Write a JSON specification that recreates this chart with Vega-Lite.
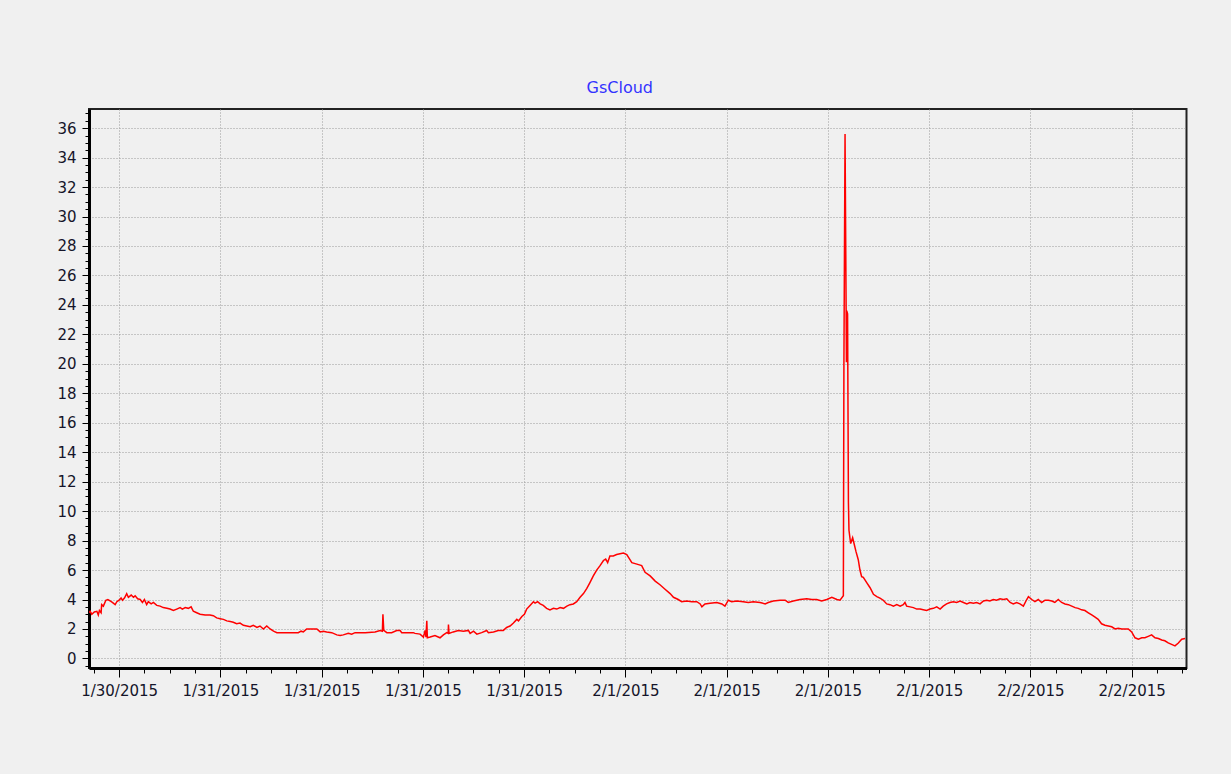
{
  "$schema": "https://vega.github.io/schema/vega-lite/v6.json",
  "width": 1097.5,
  "height": 559,
  "autosize": "none",
  "padding": {"left": 89, "top": 109, "right": 44.5, "bottom": 106},
  "background": "#f0f0f0",
  "title": {"text": "GsCloud", "color": "#3333ff", "font": "DejaVu Sans", "fontSize": 16, "fontWeight": "normal", "anchor": "middle", "dx": -18, "offset": -3, "baseline": "alphabetic"},
  "config": {
    "view": {"stroke": "#222222", "strokeWidth": 2, "fill": "#f0f0f0"},
    "axis": {"labelFont": "DejaVu Sans", "labelFontSize": 15, "labelColor": "#15152a", "domainColor": "#000000", "domainWidth": 3, "tickColor": "#000000", "tickWidth": 1, "gridColor": "#9a9a9a", "gridDash": [1, 2], "gridWidth": 1, "labelOverlap": false, "labelFlush": false, "labelBound": false, "title": null}
  },
  "data": {"values": [
    {"time": "2015-01-30T16:13", "conc": 3.1},
    {"time": "2015-01-30T16:17", "conc": 3.2},
    {"time": "2015-01-30T16:23", "conc": 3.0},
    {"time": "2015-01-30T16:32", "conc": 3.15},
    {"time": "2015-01-30T16:41", "conc": 3.2},
    {"time": "2015-01-30T16:46", "conc": 2.95},
    {"time": "2015-01-30T16:50", "conc": 3.25},
    {"time": "2015-01-30T16:56", "conc": 3.1},
    {"time": "2015-01-30T16:58", "conc": 3.65},
    {"time": "2015-01-30T17:04", "conc": 3.55},
    {"time": "2015-01-30T17:13", "conc": 3.95},
    {"time": "2015-01-30T17:20", "conc": 4.0},
    {"time": "2015-01-30T17:28", "conc": 3.9},
    {"time": "2015-01-30T17:36", "conc": 3.8},
    {"time": "2015-01-30T17:46", "conc": 3.65},
    {"time": "2015-01-30T17:52", "conc": 3.85},
    {"time": "2015-01-30T18:00", "conc": 3.95},
    {"time": "2015-01-30T18:07", "conc": 4.1},
    {"time": "2015-01-30T18:12", "conc": 3.95},
    {"time": "2015-01-30T18:19", "conc": 4.1},
    {"time": "2015-01-30T18:27", "conc": 4.4},
    {"time": "2015-01-30T18:33", "conc": 4.15},
    {"time": "2015-01-30T18:43", "conc": 4.3},
    {"time": "2015-01-30T18:51", "conc": 4.15},
    {"time": "2015-01-30T18:57", "conc": 4.25},
    {"time": "2015-01-30T19:06", "conc": 4.05},
    {"time": "2015-01-30T19:15", "conc": 4.0},
    {"time": "2015-01-30T19:23", "conc": 3.8},
    {"time": "2015-01-30T19:30", "conc": 4.0},
    {"time": "2015-01-30T19:38", "conc": 3.65},
    {"time": "2015-01-30T19:44", "conc": 3.85},
    {"time": "2015-01-30T19:54", "conc": 3.7},
    {"time": "2015-01-30T20:02", "conc": 3.8},
    {"time": "2015-01-30T20:14", "conc": 3.6},
    {"time": "2015-01-30T20:26", "conc": 3.55},
    {"time": "2015-01-30T20:37", "conc": 3.45},
    {"time": "2015-01-30T20:50", "conc": 3.4},
    {"time": "2015-01-30T21:01", "conc": 3.35},
    {"time": "2015-01-30T21:13", "conc": 3.25},
    {"time": "2015-01-30T21:25", "conc": 3.35},
    {"time": "2015-01-30T21:37", "conc": 3.45},
    {"time": "2015-01-30T21:45", "conc": 3.35},
    {"time": "2015-01-30T21:55", "conc": 3.45},
    {"time": "2015-01-30T22:06", "conc": 3.4},
    {"time": "2015-01-30T22:16", "conc": 3.5},
    {"time": "2015-01-30T22:24", "conc": 3.2},
    {"time": "2015-01-30T22:36", "conc": 3.1},
    {"time": "2015-01-30T22:48", "conc": 3.0},
    {"time": "2015-01-30T23:06", "conc": 2.95},
    {"time": "2015-01-30T23:23", "conc": 2.95},
    {"time": "2015-01-30T23:35", "conc": 2.9},
    {"time": "2015-01-30T23:47", "conc": 2.75},
    {"time": "2015-01-30T23:59", "conc": 2.7},
    {"time": "2015-01-31T00:11", "conc": 2.65},
    {"time": "2015-01-31T00:23", "conc": 2.55},
    {"time": "2015-01-31T00:35", "conc": 2.5},
    {"time": "2015-01-31T00:46", "conc": 2.45},
    {"time": "2015-01-31T00:58", "conc": 2.35},
    {"time": "2015-01-31T01:10", "conc": 2.4},
    {"time": "2015-01-31T01:22", "conc": 2.25},
    {"time": "2015-01-31T01:34", "conc": 2.2},
    {"time": "2015-01-31T01:46", "conc": 2.15},
    {"time": "2015-01-31T01:57", "conc": 2.25},
    {"time": "2015-01-31T02:10", "conc": 2.1},
    {"time": "2015-01-31T02:21", "conc": 2.2},
    {"time": "2015-01-31T02:33", "conc": 2.0},
    {"time": "2015-01-31T02:45", "conc": 2.2},
    {"time": "2015-01-31T02:57", "conc": 2.0},
    {"time": "2015-01-31T03:09", "conc": 1.85},
    {"time": "2015-01-31T03:21", "conc": 1.75},
    {"time": "2015-01-31T04:08", "conc": 1.75},
    {"time": "2015-01-31T04:37", "conc": 1.75},
    {"time": "2015-01-31T04:47", "conc": 1.85},
    {"time": "2015-01-31T04:55", "conc": 1.8},
    {"time": "2015-01-31T05:07", "conc": 2.0},
    {"time": "2015-01-31T05:43", "conc": 2.0},
    {"time": "2015-01-31T05:55", "conc": 1.8},
    {"time": "2015-01-31T06:06", "conc": 1.85},
    {"time": "2015-01-31T06:18", "conc": 1.8},
    {"time": "2015-01-31T06:36", "conc": 1.75},
    {"time": "2015-01-31T06:54", "conc": 1.6},
    {"time": "2015-01-31T07:06", "conc": 1.55},
    {"time": "2015-01-31T07:17", "conc": 1.6},
    {"time": "2015-01-31T07:35", "conc": 1.7},
    {"time": "2015-01-31T07:47", "conc": 1.65},
    {"time": "2015-01-31T07:59", "conc": 1.75},
    {"time": "2015-01-31T08:35", "conc": 1.75},
    {"time": "2015-01-31T09:10", "conc": 1.8},
    {"time": "2015-01-31T09:28", "conc": 1.9},
    {"time": "2015-01-31T09:36", "conc": 1.85},
    {"time": "2015-01-31T09:38", "conc": 3.0},
    {"time": "2015-01-31T09:41", "conc": 1.9},
    {"time": "2015-01-31T09:52", "conc": 1.75},
    {"time": "2015-01-31T10:09", "conc": 1.75},
    {"time": "2015-01-31T10:27", "conc": 1.9},
    {"time": "2015-01-31T10:39", "conc": 1.9},
    {"time": "2015-01-31T10:45", "conc": 1.75},
    {"time": "2015-01-31T11:26", "conc": 1.75},
    {"time": "2015-01-31T11:32", "conc": 1.7},
    {"time": "2015-01-31T11:50", "conc": 1.65},
    {"time": "2015-01-31T12:02", "conc": 1.45},
    {"time": "2015-01-31T12:08", "conc": 1.9},
    {"time": "2015-01-31T12:11", "conc": 1.45},
    {"time": "2015-01-31T12:14", "conc": 2.55},
    {"time": "2015-01-31T12:16", "conc": 1.4},
    {"time": "2015-01-31T12:26", "conc": 1.45},
    {"time": "2015-01-31T12:43", "conc": 1.55},
    {"time": "2015-01-31T13:01", "conc": 1.4},
    {"time": "2015-01-31T13:13", "conc": 1.6},
    {"time": "2015-01-31T13:25", "conc": 1.75},
    {"time": "2015-01-31T13:30", "conc": 1.7},
    {"time": "2015-01-31T13:31", "conc": 2.3},
    {"time": "2015-01-31T13:33", "conc": 1.7},
    {"time": "2015-01-31T13:48", "conc": 1.8},
    {"time": "2015-01-31T14:06", "conc": 1.9},
    {"time": "2015-01-31T14:24", "conc": 1.85},
    {"time": "2015-01-31T14:42", "conc": 1.9},
    {"time": "2015-01-31T14:48", "conc": 1.7},
    {"time": "2015-01-31T15:00", "conc": 1.85},
    {"time": "2015-01-31T15:12", "conc": 1.65},
    {"time": "2015-01-31T15:29", "conc": 1.75},
    {"time": "2015-01-31T15:47", "conc": 1.9},
    {"time": "2015-01-31T15:53", "conc": 1.75},
    {"time": "2015-01-31T16:11", "conc": 1.8},
    {"time": "2015-01-31T16:28", "conc": 1.9},
    {"time": "2015-01-31T16:46", "conc": 1.9},
    {"time": "2015-01-31T16:58", "conc": 2.1},
    {"time": "2015-01-31T17:10", "conc": 2.2},
    {"time": "2015-01-31T17:22", "conc": 2.4},
    {"time": "2015-01-31T17:34", "conc": 2.65},
    {"time": "2015-01-31T17:40", "conc": 2.55},
    {"time": "2015-01-31T17:52", "conc": 2.85},
    {"time": "2015-01-31T18:01", "conc": 3.0},
    {"time": "2015-01-31T18:09", "conc": 3.35},
    {"time": "2015-01-31T18:21", "conc": 3.6},
    {"time": "2015-01-31T18:33", "conc": 3.85},
    {"time": "2015-01-31T18:39", "conc": 3.75},
    {"time": "2015-01-31T18:48", "conc": 3.85},
    {"time": "2015-01-31T18:57", "conc": 3.7},
    {"time": "2015-01-31T19:08", "conc": 3.6},
    {"time": "2015-01-31T19:20", "conc": 3.4},
    {"time": "2015-01-31T19:32", "conc": 3.3},
    {"time": "2015-01-31T19:44", "conc": 3.4},
    {"time": "2015-01-31T19:56", "conc": 3.35},
    {"time": "2015-01-31T20:08", "conc": 3.45},
    {"time": "2015-01-31T20:20", "conc": 3.4},
    {"time": "2015-01-31T20:32", "conc": 3.55},
    {"time": "2015-01-31T20:43", "conc": 3.65},
    {"time": "2015-01-31T20:55", "conc": 3.7},
    {"time": "2015-01-31T21:07", "conc": 3.85},
    {"time": "2015-01-31T21:19", "conc": 4.15},
    {"time": "2015-01-31T21:31", "conc": 4.4},
    {"time": "2015-01-31T21:43", "conc": 4.75},
    {"time": "2015-01-31T21:54", "conc": 5.15},
    {"time": "2015-01-31T22:06", "conc": 5.6},
    {"time": "2015-01-31T22:18", "conc": 6.0},
    {"time": "2015-01-31T22:30", "conc": 6.3},
    {"time": "2015-01-31T22:42", "conc": 6.65},
    {"time": "2015-01-31T22:50", "conc": 6.75},
    {"time": "2015-01-31T22:57", "conc": 6.5},
    {"time": "2015-01-31T23:05", "conc": 6.95},
    {"time": "2015-01-31T23:17", "conc": 6.95},
    {"time": "2015-01-31T23:29", "conc": 7.05},
    {"time": "2015-01-31T23:41", "conc": 7.1},
    {"time": "2015-01-31T23:53", "conc": 7.15},
    {"time": "2015-02-01T00:05", "conc": 7.05},
    {"time": "2015-02-01T00:23", "conc": 6.5},
    {"time": "2015-02-01T00:41", "conc": 6.4},
    {"time": "2015-02-01T00:58", "conc": 6.3},
    {"time": "2015-02-01T01:10", "conc": 5.85},
    {"time": "2015-02-01T01:28", "conc": 5.6},
    {"time": "2015-02-01T01:46", "conc": 5.25},
    {"time": "2015-02-01T02:03", "conc": 5.0},
    {"time": "2015-02-01T02:21", "conc": 4.7},
    {"time": "2015-02-01T02:39", "conc": 4.4},
    {"time": "2015-02-01T02:51", "conc": 4.15},
    {"time": "2015-02-01T03:08", "conc": 4.0},
    {"time": "2015-02-01T03:20", "conc": 3.85},
    {"time": "2015-02-01T03:38", "conc": 3.9},
    {"time": "2015-02-01T03:56", "conc": 3.85},
    {"time": "2015-02-01T04:14", "conc": 3.85},
    {"time": "2015-02-01T04:26", "conc": 3.7},
    {"time": "2015-02-01T04:32", "conc": 3.5},
    {"time": "2015-02-01T04:43", "conc": 3.7},
    {"time": "2015-02-01T05:01", "conc": 3.75},
    {"time": "2015-02-01T05:25", "conc": 3.8},
    {"time": "2015-02-01T05:43", "conc": 3.7},
    {"time": "2015-02-01T05:54", "conc": 3.55},
    {"time": "2015-02-01T06:06", "conc": 3.95},
    {"time": "2015-02-01T06:18", "conc": 3.85},
    {"time": "2015-02-01T06:36", "conc": 3.9},
    {"time": "2015-02-01T06:59", "conc": 3.85},
    {"time": "2015-02-01T07:17", "conc": 3.8},
    {"time": "2015-02-01T07:35", "conc": 3.85},
    {"time": "2015-02-01T07:59", "conc": 3.8},
    {"time": "2015-02-01T08:17", "conc": 3.7},
    {"time": "2015-02-01T08:28", "conc": 3.8},
    {"time": "2015-02-01T08:46", "conc": 3.9},
    {"time": "2015-02-01T09:10", "conc": 3.95},
    {"time": "2015-02-01T09:28", "conc": 3.95},
    {"time": "2015-02-01T09:39", "conc": 3.8},
    {"time": "2015-02-01T09:57", "conc": 3.9},
    {"time": "2015-02-01T10:21", "conc": 4.0},
    {"time": "2015-02-01T10:45", "conc": 4.05},
    {"time": "2015-02-01T11:03", "conc": 4.0},
    {"time": "2015-02-01T11:20", "conc": 4.0},
    {"time": "2015-02-01T11:38", "conc": 3.9},
    {"time": "2015-02-01T11:56", "conc": 4.0},
    {"time": "2015-02-01T12:14", "conc": 4.15},
    {"time": "2015-02-01T12:32", "conc": 4.0},
    {"time": "2015-02-01T12:43", "conc": 3.95},
    {"time": "2015-02-01T12:55", "conc": 4.25},
    {"time": "2015-02-01T12:57", "conc": 20.1},
    {"time": "2015-02-01T13:01", "conc": 35.6},
    {"time": "2015-02-01T13:06", "conc": 20.1},
    {"time": "2015-02-01T13:07", "conc": 23.6},
    {"time": "2015-02-01T13:10", "conc": 23.4},
    {"time": "2015-02-01T13:13", "conc": 10.6},
    {"time": "2015-02-01T13:15", "conc": 8.7},
    {"time": "2015-02-01T13:21", "conc": 7.8},
    {"time": "2015-02-01T13:28", "conc": 8.2},
    {"time": "2015-02-01T13:33", "conc": 7.8},
    {"time": "2015-02-01T13:40", "conc": 7.25},
    {"time": "2015-02-01T13:48", "conc": 6.7},
    {"time": "2015-02-01T13:54", "conc": 6.0},
    {"time": "2015-02-01T14:00", "conc": 5.55},
    {"time": "2015-02-01T14:06", "conc": 5.5},
    {"time": "2015-02-01T14:18", "conc": 5.15},
    {"time": "2015-02-01T14:30", "conc": 4.8},
    {"time": "2015-02-01T14:42", "conc": 4.35},
    {"time": "2015-02-01T14:54", "conc": 4.2},
    {"time": "2015-02-01T15:05", "conc": 4.1},
    {"time": "2015-02-01T15:17", "conc": 3.95},
    {"time": "2015-02-01T15:29", "conc": 3.7},
    {"time": "2015-02-01T15:41", "conc": 3.65},
    {"time": "2015-02-01T15:53", "conc": 3.55},
    {"time": "2015-02-01T16:05", "conc": 3.65},
    {"time": "2015-02-01T16:17", "conc": 3.55},
    {"time": "2015-02-01T16:28", "conc": 3.65},
    {"time": "2015-02-01T16:34", "conc": 3.8},
    {"time": "2015-02-01T16:40", "conc": 3.55},
    {"time": "2015-02-01T16:52", "conc": 3.5},
    {"time": "2015-02-01T17:04", "conc": 3.45},
    {"time": "2015-02-01T17:16", "conc": 3.35},
    {"time": "2015-02-01T17:28", "conc": 3.35},
    {"time": "2015-02-01T17:39", "conc": 3.3},
    {"time": "2015-02-01T17:51", "conc": 3.25},
    {"time": "2015-02-01T18:03", "conc": 3.35},
    {"time": "2015-02-01T18:15", "conc": 3.4},
    {"time": "2015-02-01T18:27", "conc": 3.5},
    {"time": "2015-02-01T18:39", "conc": 3.35},
    {"time": "2015-02-01T18:50", "conc": 3.55},
    {"time": "2015-02-01T19:02", "conc": 3.7},
    {"time": "2015-02-01T19:14", "conc": 3.8},
    {"time": "2015-02-01T19:26", "conc": 3.85},
    {"time": "2015-02-01T19:38", "conc": 3.8},
    {"time": "2015-02-01T19:50", "conc": 3.9},
    {"time": "2015-02-01T20:02", "conc": 3.8},
    {"time": "2015-02-01T20:14", "conc": 3.7},
    {"time": "2015-02-01T20:25", "conc": 3.8},
    {"time": "2015-02-01T20:37", "conc": 3.75},
    {"time": "2015-02-01T20:49", "conc": 3.8},
    {"time": "2015-02-01T21:01", "conc": 3.7},
    {"time": "2015-02-01T21:13", "conc": 3.9},
    {"time": "2015-02-01T21:25", "conc": 3.95},
    {"time": "2015-02-01T21:36", "conc": 3.9},
    {"time": "2015-02-01T21:48", "conc": 4.0},
    {"time": "2015-02-01T22:00", "conc": 3.95},
    {"time": "2015-02-01T22:12", "conc": 4.05},
    {"time": "2015-02-01T22:24", "conc": 4.0},
    {"time": "2015-02-01T22:36", "conc": 4.05},
    {"time": "2015-02-01T22:48", "conc": 3.8},
    {"time": "2015-02-01T22:59", "conc": 3.7},
    {"time": "2015-02-01T23:11", "conc": 3.8},
    {"time": "2015-02-01T23:23", "conc": 3.7},
    {"time": "2015-02-01T23:35", "conc": 3.55},
    {"time": "2015-02-01T23:47", "conc": 4.0},
    {"time": "2015-02-01T23:53", "conc": 4.2},
    {"time": "2015-02-02T00:05", "conc": 4.0},
    {"time": "2015-02-02T00:16", "conc": 3.85},
    {"time": "2015-02-02T00:28", "conc": 4.0},
    {"time": "2015-02-02T00:40", "conc": 3.8},
    {"time": "2015-02-02T00:52", "conc": 3.95},
    {"time": "2015-02-02T01:04", "conc": 3.95},
    {"time": "2015-02-02T01:16", "conc": 3.9},
    {"time": "2015-02-02T01:27", "conc": 3.8},
    {"time": "2015-02-02T01:39", "conc": 4.0},
    {"time": "2015-02-02T01:51", "conc": 3.8},
    {"time": "2015-02-02T02:03", "conc": 3.7},
    {"time": "2015-02-02T02:15", "conc": 3.65},
    {"time": "2015-02-02T02:27", "conc": 3.55},
    {"time": "2015-02-02T02:39", "conc": 3.45},
    {"time": "2015-02-02T02:50", "conc": 3.4},
    {"time": "2015-02-02T03:02", "conc": 3.3},
    {"time": "2015-02-02T03:14", "conc": 3.25},
    {"time": "2015-02-02T03:26", "conc": 3.1},
    {"time": "2015-02-02T03:38", "conc": 2.95},
    {"time": "2015-02-02T03:50", "conc": 2.8},
    {"time": "2015-02-02T04:01", "conc": 2.65},
    {"time": "2015-02-02T04:13", "conc": 2.35},
    {"time": "2015-02-02T04:25", "conc": 2.25},
    {"time": "2015-02-02T04:37", "conc": 2.2},
    {"time": "2015-02-02T04:49", "conc": 2.15},
    {"time": "2015-02-02T05:01", "conc": 2.0},
    {"time": "2015-02-02T05:12", "conc": 2.05},
    {"time": "2015-02-02T05:25", "conc": 2.0},
    {"time": "2015-02-02T05:36", "conc": 2.0},
    {"time": "2015-02-02T05:48", "conc": 2.0},
    {"time": "2015-02-02T06:00", "conc": 1.8},
    {"time": "2015-02-02T06:12", "conc": 1.4},
    {"time": "2015-02-02T06:24", "conc": 1.3},
    {"time": "2015-02-02T06:36", "conc": 1.4},
    {"time": "2015-02-02T06:47", "conc": 1.4},
    {"time": "2015-02-02T06:59", "conc": 1.5},
    {"time": "2015-02-02T07:11", "conc": 1.6},
    {"time": "2015-02-02T07:23", "conc": 1.4},
    {"time": "2015-02-02T07:35", "conc": 1.35},
    {"time": "2015-02-02T07:47", "conc": 1.25},
    {"time": "2015-02-02T07:58", "conc": 1.2},
    {"time": "2015-02-02T08:10", "conc": 1.05},
    {"time": "2015-02-02T08:22", "conc": 0.95},
    {"time": "2015-02-02T08:34", "conc": 0.85},
    {"time": "2015-02-02T08:46", "conc": 1.05},
    {"time": "2015-02-02T08:58", "conc": 1.3},
    {"time": "2015-02-02T09:10", "conc": 1.35}
  ]},
  "mark": {"type": "line", "color": "#ff0000", "strokeWidth": 1.5, "clip": true},
  "encoding": {
    "x": {
      "field": "time",
      "type": "temporal",
      "scale": {"domain": [{"year": 2015, "month": 1, "date": 30, "hours": 16, "minutes": 13}, {"year": 2015, "month": 2, "date": 2, "hours": 9, "minutes": 15}]},
      "axis": {
        "values": [
          {"year": 2015, "month": 1, "date": 30, "hours": 16, "minutes": 30},
          {"year": 2015, "month": 1, "date": 30, "hours": 18, "minutes": 0},
          {"year": 2015, "month": 1, "date": 30, "hours": 19, "minutes": 30},
          {"year": 2015, "month": 1, "date": 30, "hours": 21, "minutes": 0},
          {"year": 2015, "month": 1, "date": 30, "hours": 22, "minutes": 30},
          {"year": 2015, "month": 1, "date": 31, "hours": 0, "minutes": 0},
          {"year": 2015, "month": 1, "date": 31, "hours": 1, "minutes": 30},
          {"year": 2015, "month": 1, "date": 31, "hours": 3, "minutes": 0},
          {"year": 2015, "month": 1, "date": 31, "hours": 4, "minutes": 30},
          {"year": 2015, "month": 1, "date": 31, "hours": 6, "minutes": 0},
          {"year": 2015, "month": 1, "date": 31, "hours": 7, "minutes": 30},
          {"year": 2015, "month": 1, "date": 31, "hours": 9, "minutes": 0},
          {"year": 2015, "month": 1, "date": 31, "hours": 10, "minutes": 30},
          {"year": 2015, "month": 1, "date": 31, "hours": 12, "minutes": 0},
          {"year": 2015, "month": 1, "date": 31, "hours": 13, "minutes": 30},
          {"year": 2015, "month": 1, "date": 31, "hours": 15, "minutes": 0},
          {"year": 2015, "month": 1, "date": 31, "hours": 16, "minutes": 30},
          {"year": 2015, "month": 1, "date": 31, "hours": 18, "minutes": 0},
          {"year": 2015, "month": 1, "date": 31, "hours": 19, "minutes": 30},
          {"year": 2015, "month": 1, "date": 31, "hours": 21, "minutes": 0},
          {"year": 2015, "month": 1, "date": 31, "hours": 22, "minutes": 30},
          {"year": 2015, "month": 2, "date": 1, "hours": 0, "minutes": 0},
          {"year": 2015, "month": 2, "date": 1, "hours": 1, "minutes": 30},
          {"year": 2015, "month": 2, "date": 1, "hours": 3, "minutes": 0},
          {"year": 2015, "month": 2, "date": 1, "hours": 4, "minutes": 30},
          {"year": 2015, "month": 2, "date": 1, "hours": 6, "minutes": 0},
          {"year": 2015, "month": 2, "date": 1, "hours": 7, "minutes": 30},
          {"year": 2015, "month": 2, "date": 1, "hours": 9, "minutes": 0},
          {"year": 2015, "month": 2, "date": 1, "hours": 10, "minutes": 30},
          {"year": 2015, "month": 2, "date": 1, "hours": 12, "minutes": 0},
          {"year": 2015, "month": 2, "date": 1, "hours": 13, "minutes": 30},
          {"year": 2015, "month": 2, "date": 1, "hours": 15, "minutes": 0},
          {"year": 2015, "month": 2, "date": 1, "hours": 16, "minutes": 30},
          {"year": 2015, "month": 2, "date": 1, "hours": 18, "minutes": 0},
          {"year": 2015, "month": 2, "date": 1, "hours": 19, "minutes": 30},
          {"year": 2015, "month": 2, "date": 1, "hours": 21, "minutes": 0},
          {"year": 2015, "month": 2, "date": 1, "hours": 22, "minutes": 30},
          {"year": 2015, "month": 2, "date": 2, "hours": 0, "minutes": 0},
          {"year": 2015, "month": 2, "date": 2, "hours": 1, "minutes": 30},
          {"year": 2015, "month": 2, "date": 2, "hours": 3, "minutes": 0},
          {"year": 2015, "month": 2, "date": 2, "hours": 4, "minutes": 30},
          {"year": 2015, "month": 2, "date": 2, "hours": 6, "minutes": 0},
          {"year": 2015, "month": 2, "date": 2, "hours": 7, "minutes": 30},
          {"year": 2015, "month": 2, "date": 2, "hours": 9, "minutes": 0}
        ],
        "grid": true,
        "gridOpacity": {"condition": {"test": "hours(datum.value) % 6 === 0 && minutes(datum.value) === 0", "value": 1}, "value": 0},
        "tickSize": {"condition": {"test": "hours(datum.value) % 6 === 0 && minutes(datum.value) === 0", "value": 9}, "value": 5},
        "labelExpr": "hours(datum.value) % 6 === 0 && minutes(datum.value) === 0 ? timeFormat(datum.value, '%-m/%-d/%Y') : ''",
        "labelPadding": 6
      }
    },
    "y": {
      "field": "conc",
      "type": "quantitative",
      "scale": {"domain": [-0.65, 37.3], "nice": false, "zero": false},
      "axis": {
        "values": [-0.5, 0, 0.5, 1, 1.5, 2, 2.5, 3, 3.5, 4, 4.5, 5, 5.5, 6, 6.5, 7, 7.5, 8, 8.5, 9, 9.5, 10, 10.5, 11, 11.5, 12, 12.5, 13, 13.5, 14, 14.5, 15, 15.5, 16, 16.5, 17, 17.5, 18, 18.5, 19, 19.5, 20, 20.5, 21, 21.5, 22, 22.5, 23, 23.5, 24, 24.5, 25, 25.5, 26, 26.5, 27, 27.5, 28, 28.5, 29, 29.5, 30, 30.5, 31, 31.5, 32, 32.5, 33, 33.5, 34, 34.5, 35, 35.5, 36, 36.5, 37],
        "grid": true,
        "gridOpacity": {"condition": {"test": "datum.value % 2 === 0", "value": 1}, "value": 0},
        "tickSize": {"condition": {"test": "datum.value % 2 === 0", "value": 7}, "value": 4},
        "labelExpr": "datum.value % 2 === 0 ? format(datum.value, 'd') : ''",
        "labelPadding": 6
      }
    }
  }
}
